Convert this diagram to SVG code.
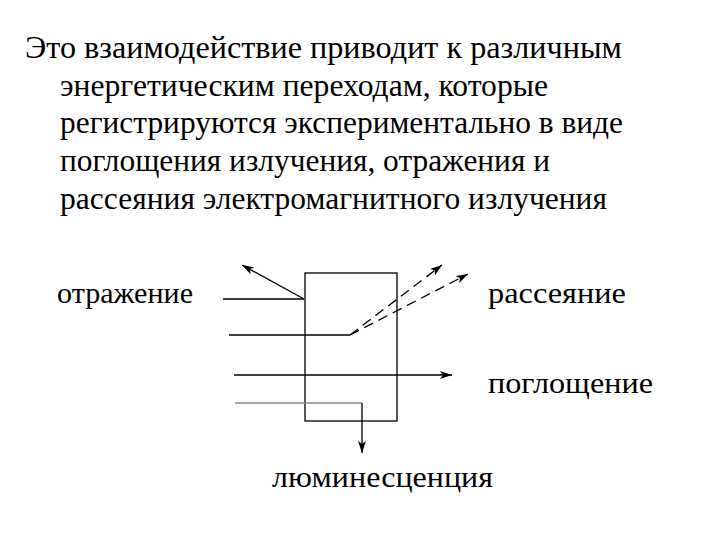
<svg xmlns="http://www.w3.org/2000/svg" width="720" height="540" viewBox="0 0 720 540">
<style>
text { font-family: "Liberation Serif", "Times New Roman", serif; fill: #000; }
.t { font-size: 31px; }
.l { font-size: 29px; }
.ln { stroke: #000; stroke-width: 1.3; fill: none; }
.dash { stroke: #000; stroke-width: 1.3; fill: none; stroke-dasharray: 10 6; }
</style>
<defs>
<marker id="ah" viewBox="0 0 12 8" refX="12" refY="4" markerWidth="12" markerHeight="8" markerUnits="userSpaceOnUse" orient="auto">
<path d="M0,0 L12,4 L0,8 L3,4 Z" fill="#000"/>
</marker>
</defs>
<rect width="720" height="540" fill="#fff"/>
<g id="title">
<text class="t" x="25" y="58" textLength="597" lengthAdjust="spacingAndGlyphs">Это взаимодействие приводит к различным</text>
<text class="t" x="60" y="96" textLength="488" lengthAdjust="spacingAndGlyphs">энергетическим переходам, которые</text>
<text class="t" x="60" y="133" textLength="563" lengthAdjust="spacingAndGlyphs">регистрируются экспериментально в виде</text>
<text class="t" x="60" y="171" textLength="490" lengthAdjust="spacingAndGlyphs">поглощения излучения, отражения и</text>
<text class="t" x="60" y="209" textLength="547" lengthAdjust="spacingAndGlyphs">рассеяния электромагнитного излучения</text>
</g>
<g id="sample">
<rect x="305" y="273" width="92" height="148" class="ln"/>
</g>
<g id="connectors">
<path d="M223,299 L304,299" class="ln"/>
<path d="M304,299 L242,265" class="ln" marker-end="url(#ah)"/>
<path d="M229,335 L350,335" class="ln"/>
<path d="M350,335 L442,265" class="dash" marker-end="url(#ah)"/>
<path d="M350,335 L468,274" class="dash" marker-end="url(#ah)"/>
<path d="M234,375 L452,375" class="ln" marker-end="url(#ah)"/>
<path d="M235,403 L362,403" stroke="#888" stroke-width="1.5" fill="none"/>
<path d="M362,403 L362,453" class="ln" marker-end="url(#ah)"/>
</g>
<g id="label-reflection"><text class="l" x="57" y="303" textLength="136" lengthAdjust="spacingAndGlyphs">отражение</text></g>
<g id="label-scattering"><text class="l" x="488" y="303" textLength="138" lengthAdjust="spacingAndGlyphs">рассеяние</text></g>
<g id="label-absorption"><text class="l" x="488" y="393" textLength="165" lengthAdjust="spacingAndGlyphs">поглощение</text></g>
<g id="label-luminescence"><text class="l" x="272" y="487" textLength="221" lengthAdjust="spacingAndGlyphs">люминесценция</text></g>
</svg>
